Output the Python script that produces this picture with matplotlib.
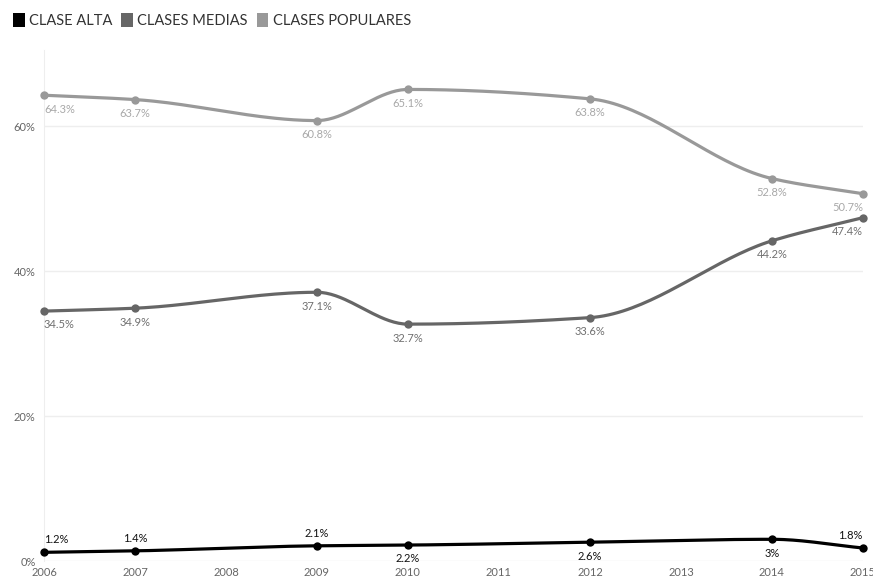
import numpy as np
import matplotlib
matplotlib.use("Agg")
import matplotlib.pyplot as plt
from matplotlib.patches import Patch

years = [2006, 2007, 2009, 2010, 2012, 2014, 2015]
clase_alta = [1.2, 1.4, 2.1, 2.2, 2.6, 3.0, 1.8]
clases_medias = [34.5, 34.9, 37.1, 32.7, 33.6, 44.2, 47.4]
clases_populares = [64.3, 63.7, 60.8, 65.1, 63.8, 52.8, 50.7]

alta_labels = ["1.2%", "1.4%", "2.1%", "2.2%", "2.6%", "3%", "1.8%"]
medias_labels = ["34.5%", "34.9%", "37.1%", "32.7%", "33.6%", "44.2%", "47.4%"]
populares_labels = ["64.3%", "63.7%", "60.8%", "65.1%", "63.8%", "52.8%", "50.7%"]
alta_above = [True, True, True, False, False, False, True]

plt.rcParams['font.family'] = ['Lato', 'DejaVu Sans']


def monotone(x, y, n=40):
    # monotone cubic (Fritsch-Carlson) smoothing for drawing the line
    x = np.asarray(x, float)
    y = np.asarray(y, float)
    h = np.diff(x)
    d = np.diff(y) / h
    m = np.zeros_like(y)
    m[0], m[-1] = d[0], d[-1]
    for i in range(1, len(y) - 1):
        if d[i - 1] * d[i] <= 0:
            m[i] = 0
        else:
            w1 = 2 * h[i] + h[i - 1]
            w2 = h[i] + 2 * h[i - 1]
            m[i] = (w1 + w2) / (w1 / d[i - 1] + w2 / d[i])
    xs, ys = [], []
    for i in range(len(x) - 1):
        t = np.linspace(0, 1, n)
        h00 = 2 * t**3 - 3 * t**2 + 1
        h10 = t**3 - 2 * t**2 + t
        h01 = -2 * t**3 + 3 * t**2
        h11 = t**3 - t**2
        xs.append(x[i] + t * h[i])
        ys.append(h00 * y[i] + h10 * h[i] * m[i] + h01 * y[i + 1] + h11 * h[i] * m[i + 1])
    return np.concatenate(xs), np.concatenate(ys)


fig = plt.figure(figsize=(8.73, 5.83), dpi=100)
ax = fig.add_axes([0.0504, 0.0377, 0.938, 0.876])

series = [
    (clases_populares, populares_labels, "#999999", "#a8a8a8"),
    (clases_medias, medias_labels, "#666666", "#707070"),
    (clase_alta, alta_labels, "#000000", "#111111"),
]

for vals, labs, col, tcol in series:
    xs, ys = monotone(years, vals)
    ax.plot(xs, ys, color=col, lw=2.3, solid_capstyle="round", zorder=3, clip_on=False)
    ax.scatter(years, vals, s=36, color=col, zorder=4, linewidths=0, clip_on=False)
    for i, (yr, v, lab) in enumerate(zip(years, vals, labs)):
        ha = "center"
        if i == 0:
            ha = "left"
        elif i == len(years) - 1:
            ha = "right"
        above = vals is clase_alta and alta_above[i]
        off = 9 if above else -10
        ax.annotate(lab, (yr, v), xytext=(0, off), textcoords="offset points",
                    ha=ha, va="center", fontsize=8, color=tcol, zorder=5)

ax.set_xlim(2006, 2015)
ax.set_ylim(0, 70.5)
ax.set_xticks(range(2006, 2016))
ax.set_yticks([0, 20, 40, 60])
ax.set_yticklabels(["0%", "20%", "40%", "60%"])
ax.tick_params(axis="both", length=0, labelsize=8, labelcolor="#666666")
ax.tick_params(axis="x", pad=4)
ax.tick_params(axis="y", pad=6)
ax.grid(axis="y", color="#eeeeee", lw=1)
ax.set_axisbelow(True)
for s in ["top", "right", "bottom"]:
    ax.spines[s].set_visible(False)
ax.spines["left"].set_color("#eeeeee")

handles = [Patch(facecolor="#000000", label="CLASE ALTA"),
           Patch(facecolor="#666666", label="CLASES MEDIAS"),
           Patch(facecolor="#999999", label="CLASES POPULARES")]
fig.legend(handles=handles, loc="upper left", bbox_to_anchor=(0.0, 1.0), ncol=3,
           frameon=False, handlelength=0.8, handleheight=1.1, handletextpad=0.3,
           columnspacing=0.6, fontsize=10.5, labelcolor="#333333")

fig.savefig("out.png", dpi=100)
